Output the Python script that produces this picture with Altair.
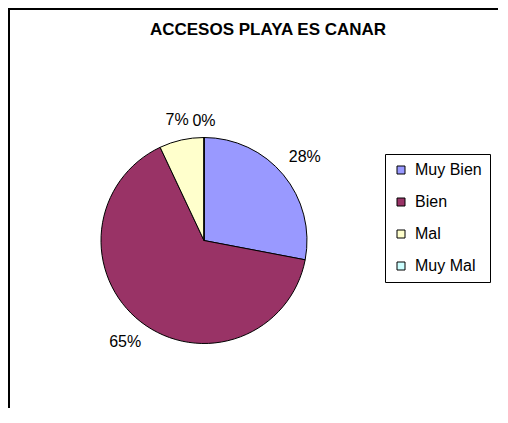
import altair as alt
import pandas as pd

titulo = "ACCESOS PLAYA ES CANAR"
categorias = ["Muy Bien", "Bien", "Mal", "Muy Mal"]
valores = [28, 65, 7, 0]
colores = ["#9999FF", "#993366", "#FFFFCC", "#CCFFFF"]

df = pd.DataFrame({"categoria": categorias, "valor": valores, "orden": list(range(len(categorias)))})

FONT = "Liberation Sans"
CX, CY = 196, 232.5
W, H = 490, 400

base = alt.Chart(df)

pie = base.mark_arc(outerRadius=103, stroke="black", strokeWidth=1).encode(
    theta=alt.Theta("valor:Q", stack=True),
    order=alt.Order("orden:Q"),
    color=alt.Color(
        "categoria:N",
        sort=categorias,
        scale=alt.Scale(domain=categorias, range=colores),
        legend=alt.Legend(
            orient="none", legendX=377, legendY=146, title=None,
            symbolType="square", symbolSize=64, symbolStrokeColor="black",
            symbolStrokeWidth=1, labelFont=FONT, labelFontSize=16, labelColor="black",
            rowPadding=16, padding=8, strokeColor="black", fillColor="white",
            labelOffset=6, symbolOffset=0,
        ),
    ),
    x=alt.value(CX),
    y=alt.value(CY),
)

labels = base.transform_window(
    cum="sum(valor)", sort=[alt.SortField("orden")], frame=[None, 0]
).transform_joinaggregate(total="sum(valor)").transform_calculate(
    mid="2*PI*(datum.cum - datum.valor/2)/datum.total",
    r="120 + 14*abs(sin(datum.mid))",
    label="format(datum.valor/datum.total, '.0%')",
).mark_text(font=FONT, fontSize=16, align="center", baseline="middle", color="black").encode(
    theta=alt.Theta("mid:Q", scale=None, stack=False),
    radius=alt.Radius("r:Q", scale=None),
    text="label:N",
    x=alt.value(CX),
    y=alt.value(CY),
)

title = alt.Chart(alt.Data(values=[{"t": titulo}])).mark_text(
    font=FONT, fontSize=17, fontWeight="bold", align="center", baseline="middle", color="black"
).encode(text="t:N", x=alt.value(260), y=alt.value(22.3))

one = alt.Data(values=[{"k": 1}])
left_border = alt.Chart(one).mark_rule(color="black", strokeWidth=2).encode(
    x=alt.value(1), y=alt.value(0), y2=alt.value(H)
)
top_border = alt.Chart(one).mark_rule(color="black", strokeWidth=2).encode(
    x=alt.value(0), x2=alt.value(W), y=alt.value(1)
)

chart = alt.layer(pie, labels, title, left_border, top_border).properties(
    width=W, height=H, padding=0, autosize=alt.AutoSizeParams(type="none")
).configure_view(stroke=None)

chart.save("out.html", embed_options={"renderer": "svg", "actions": False})
